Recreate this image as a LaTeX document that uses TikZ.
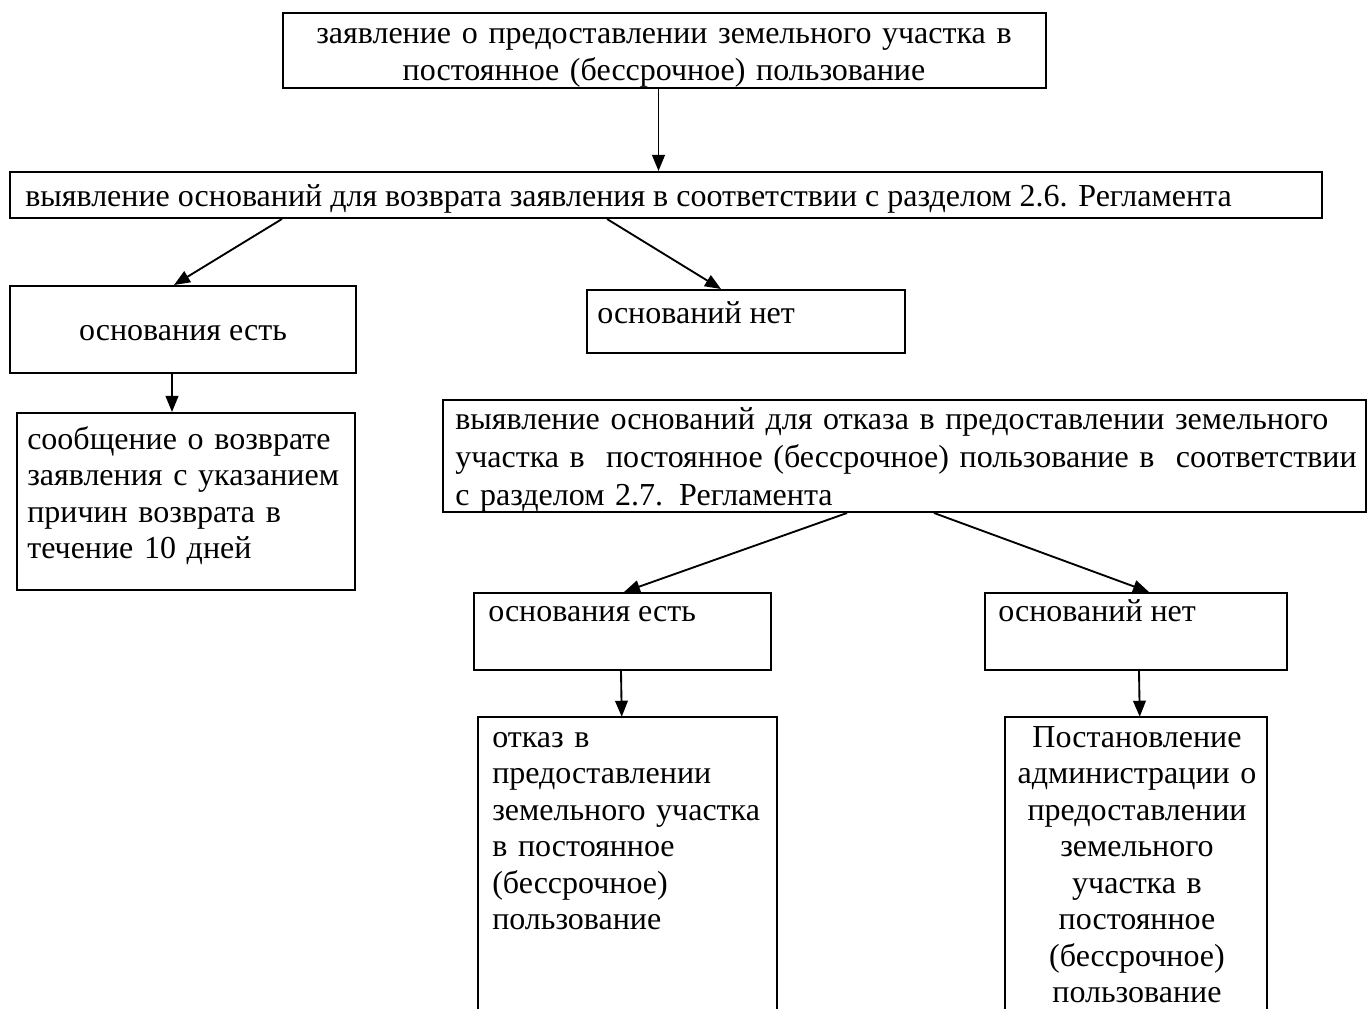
\documentclass[tikz,border=0pt]{standalone}
\usepackage{fontspec}
\setmainfont{Liberation Serif}
\usetikzlibrary{arrows.meta,fit,calc}
\newcommand{\fsz}{\fontsize{24pt}{27.4pt}\selectfont}
\newcommand{\fszw}{\fontsize{24pt}{28.6pt}\selectfont}
\begin{document}
\begin{tikzpicture}[x=0.75pt,y=-0.75pt,
  box/.style={draw, line width=1.5pt, inner sep=0pt},
  openbox/.style={draw=none, inner sep=0pt},
  boxline/.style={line width=1.5pt},
  txt/.style={inner sep=0pt, font=\fsz},
  arr/.style={line width=1.4pt, -{Triangle[length=12pt,width=9.5pt]}}]
\useasboundingbox (0,0) rectangle (1368,1009);
% boxes
\node[box, fit={(283,13) (1046,88)}] (b1) {};
\node[box, fit={(10,172) (1322,218)}] (b2) {};
\node[box, fit={(10,286) (356,373)}] (b3) {};
\node[box, fit={(17,413) (355,590)}] (b4) {};
\node[box, fit={(587,290) (905,353)}] (b5) {};
\node[box, fit={(443,400) (1366,512)}] (b6) {};
\node[box, fit={(474,593) (771,670)}] (b7) {};
\node[box, fit={(985,593) (1287,670)}] (b8) {};
\node[openbox, fit={(478,717) (777,1009)}] (b9) {};
\node[openbox, fit={(1005,717) (1267,1009)}] (b10) {};
\draw[boxline] (b9.south west) |- (b9.north east) -- (b9.south east);
\draw[boxline] (b10.south west) |- (b10.north east) -- (b10.south east);
% texts
\node[txt, anchor=base, text width=760*0.75pt, align=center] (t1) at (664,44)
  {заявление о предоставлении земельного участка в\\постоянное (бессрочное) пользование};
\node[txt, anchor=base west] (t2) at (25,207)
  {выявление оснований для возврата заявления в соответствии с разделом 2.6. Регламента};
\node[txt, anchor=base] (t3) at (183,341) {основания есть};
\node[txt, anchor=base west, text width=335*0.75pt, align=left] (t4) at (27,449)
  {сообщение о возврате\\заявления с указанием\\причин возврата в\\течение 10 дней};
\node[txt, anchor=base west] (t5) at (597,324) {оснований нет};
\node[txt, font=\fszw, anchor=base west, text width=910*0.75pt, align=left] (t6) at (455,429)
  {выявление оснований для отказа в предоставлении земельного\\участка в\ \ постоянное (бессрочное) пользование в\ \ соответствии\\с разделом 2.7. Регламента};
\node[txt, anchor=base west] (t7) at (488,621) {основания есть};
\node[txt, anchor=base west] (t8) at (998,621) {оснований нет};
\node[txt, anchor=base west, text width=290*0.75pt, align=left] (t9) at (492,747)
  {отказ в\\предоставлении\\земельного участка\\в постоянное\\(бессрочное)\\пользование};
\node[txt, anchor=base, text width=260*0.75pt, align=center] (t10) at (1137,747)
  {Постановление\\администрации о\\предоставлении\\земельного\\участка в\\постоянное\\(бессрочное)\\пользование};
% arrows
\draw[arr] ([xshift=-4.5pt]b1.south) -- ([xshift=-4.5pt]b1.south |- b2.north);
\draw[arr] ($(b2.south west)+(273,0)$) -- ($(b3.north west)+(165,0)$);
\draw[arr] ($(b2.south west)+(598,0)$) -- ($(b5.north west)+(135,0)$);
\draw[arr] ($(b3.south west)+(163,0)$) -- ($(b4.north west)+(156,0)$);
\draw[arr] ($(b6.south west)+(405,0)$) -- ($(b7.north west)+(151,0)$);
\draw[arr] ($(b6.south west)+(492,0)$) -- ($(b8.north west)+(165,0)$);
\draw[arr] ($(b7.south west)+(148,0)$) -- ($(b9.north west)+(144,0)$);
\draw[arr] ($(b8.south west)+(155,0)$) -- ($(b10.north west)+(135,0)$);
\end{tikzpicture}
\end{document}
